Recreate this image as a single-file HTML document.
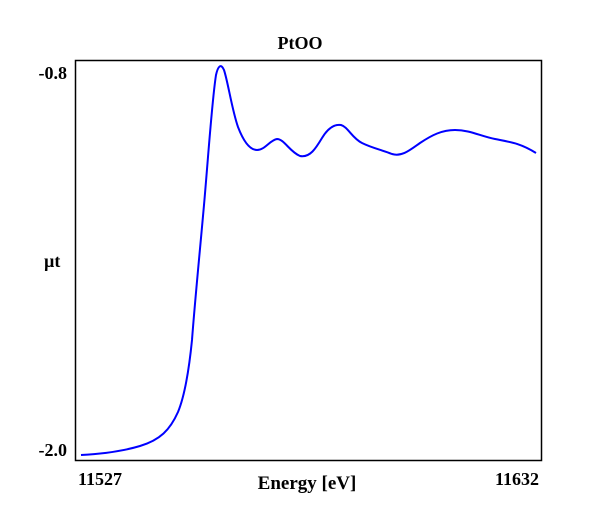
<!DOCTYPE html>
<html><head><style>
body{margin:0;background:#fff;}
svg text{font-family:"Liberation Serif",serif;font-weight:bold;fill:#000;}
</style></head><body>
<svg width="600" height="520" xmlns="http://www.w3.org/2000/svg">
<rect x="75.5" y="60.5" width="466" height="400" fill="#fff" stroke="#000" stroke-width="1.5"/>
<text x="300" y="49" font-size="18" text-anchor="middle">PtOO</text>
<text x="67" y="79" font-size="18" text-anchor="end">-0.8</text>
<text x="67" y="456" font-size="18" text-anchor="end">-2.0</text>
<text x="44" y="267" font-size="18">µt</text>
<text x="78" y="485" font-size="18">11527</text>
<text x="539" y="485" font-size="18" text-anchor="end">11632</text>
<text x="307" y="489" font-size="19" text-anchor="middle">Energy [eV]</text>
<path fill="none" stroke="#0000ff" stroke-width="2" stroke-linejoin="round" d="M81,455 C100,454 120,452 140,446 C160,440 170,430 178,412 C185,395 189,370 192,340 C195,300 200,250 204,205 C208,160 212,100 216,75 C218,66 221,63 224,70 C228,82 232,110 238,127 C243,140 249,150 257,150 C265,150 270,140 277,139 C284,139 290,152 300,156 C310,158 316,148 322,138 C328,128 334,124 341,125 C348,127 352,138 362,143 C372,148 382,150 392,154 C402,157 410,150 420,143 C432,135 442,130 455,130 C470,130 480,136 495,139 C510,142 520,143 536,153"/>
</svg>
</body></html>
